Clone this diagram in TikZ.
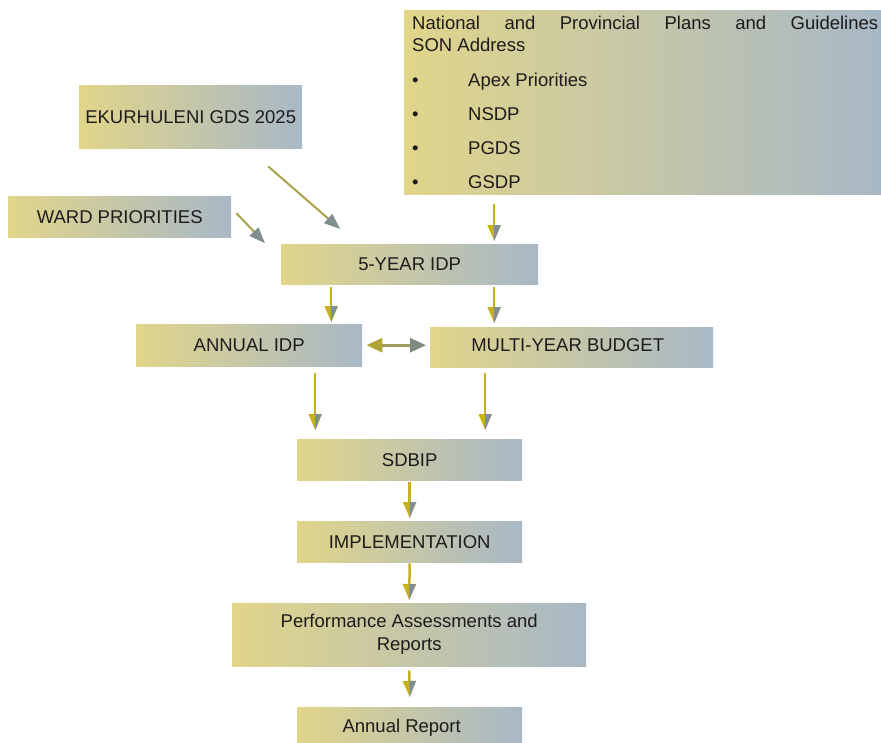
\documentclass[tikz,border=0pt]{standalone}
\usepackage{fontspec}
\setmainfont{Liberation Sans}
\usetikzlibrary{arrows.meta,decorations.markings}
\definecolor{gl}{HTML}{E1D58A}
\definecolor{gr}{HTML}{A8B8C6}
\definecolor{ay}{HTML}{C6B21C}
\definecolor{ag}{HTML}{7E8E9A}
\definecolor{dl}{HTML}{A9A24A}
\definecolor{dh}{HTML}{7F8F90}
\definecolor{bl}{HTML}{B0A438}
\definecolor{br}{HTML}{7F8D80}
\definecolor{bm}{HTML}{9C9C60}
\definecolor{txt}{HTML}{1E1B1C}
\tikzset{
  box/.style={rectangle, left color=gl, right color=gr, draw=none, inner sep=0pt,
    text=txt, font=\fontsize{18.5}{22}\selectfont, anchor=north west},
  varr/.style={draw=ay, line width=2.5pt,
    -{Triangle[length=16pt,width=13pt,color=ay]},
    postaction={decorate},
    decoration={markings, mark=at position 1 with {\fill[ag] (0,0) -- (-16pt,0) -- (-16pt,6.5pt) -- cycle;}}},
  darr/.style={draw=dl, line width=2pt, -{Triangle[length=16pt,width=12pt,color=dh]}},
  barr/.style={draw=bm, line width=3pt,
    {Triangle[length=16pt,width=14pt,color=bl]}-{Triangle[length=16pt,width=14pt,color=br]}},
}
\begin{document}
\begin{tikzpicture}[x=1pt,y=-1pt]
\clip (0,0) rectangle (881,742);
\node[box, minimum width=223pt, minimum height=63pt] (gds) at (79,85) {EKURHULENI GDS 2025};
\node[box, minimum width=223pt, minimum height=41pt] (ward) at (8,196) {WARD PRIORITIES};
\node[box, minimum width=477pt, minimum height=184pt] (nat) at (404,10) {};
\node[anchor=base west, inner sep=0pt, text=txt, font=\fontsize{18.5}{22}\selectfont] (natText) at (412,29)
  {\parbox[t]{466pt}{\makebox[466pt][s]{National and Provincial Plans and Guidelines}\\
   SON Address\\[13pt]
   \makebox[56pt][l]{\textbullet}Apex Priorities\\[12pt]
   \makebox[56pt][l]{\textbullet}NSDP\\[12pt]
   \makebox[56pt][l]{\textbullet}PGDS\\[12pt]
   \makebox[56pt][l]{\textbullet}GSDP}};
\node[box, minimum width=257pt, minimum height=40pt] (idp5) at (281,244) {5-YEAR IDP};
\node[box, minimum width=226pt, minimum height=42pt] (annual) at (136,324) {\raisebox{-1pt}{ANNUAL IDP}};
\node[box, minimum width=283pt, minimum height=40pt] (budget) at (430,327) {\raisebox{4pt}{MULTI-YEAR BUDGET}\hspace*{8pt}};
\node[box, minimum width=225pt, minimum height=41pt] (sdbip) at (297,439) {SDBIP};
\node[box, minimum width=225pt, minimum height=41pt] (impl) at (297,521) {IMPLEMENTATION};
\node[box, minimum width=354pt, minimum height=63pt, align=center,
      font=\fontsize{18.5}{23}\selectfont] (perf) at (232,603) {Performance Assessments and\\Reports};
\node[box, minimum width=225pt, minimum height=41pt] (report) at (297,707) {\raisebox{-2pt}{Annual Report}\hspace*{16pt}};

\draw[darr] ([shift={(77.5,18)}]gds.south) -- ([shift={(-69.5,-15)}]idp5.north);
\draw[darr] ([shift={(5,-3.5)}]ward.east) -- ([shift={(-16,-21)}]idp5.west);
\draw[varr] ([shift={(-148.5,10)}]nat.south) -- ([shift={(84.5,-3)}]idp5.north);
\draw[varr] ([shift={(-78.5,3)}]idp5.south) -- ([shift={(82,-2)}]annual.north);
\draw[varr] ([shift={(84.5,3)}]idp5.south) -- ([shift={(-77.5,-4)}]budget.north);
\draw[barr] ([shift={(4,0)}]annual.east) -- ([shift={(-4,-2)}]budget.west);
\draw[varr] ([shift={(66,7)}]annual.south) -- ([shift={(-94.5,-9)}]sdbip.north);
\draw[varr] ([shift={(-86.5,6)}]budget.south) -- ([shift={(75.5,-9)}]sdbip.north);
\draw[varr] ([shift={(0,2)}]sdbip.south) -- ([shift={(0,-3)}]impl.north);
\draw[varr] ([shift={(0,1)}]impl.south) -- ([shift={(0,-3)}]perf.north);
\draw[varr] ([shift={(0,4)}]perf.south) -- ([shift={(0,-10)}]report.north);
\end{tikzpicture}
\end{document}
